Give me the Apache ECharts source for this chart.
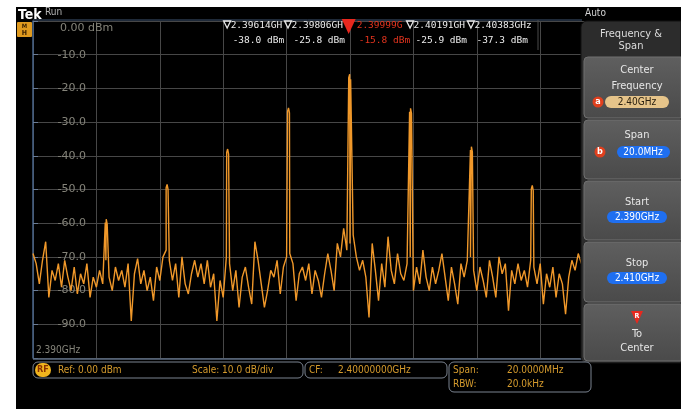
<!DOCTYPE html>
<html>
<head>
<meta charset="utf-8">
<script src="https://cdn.jsdelivr.net/npm/echarts@6/dist/echarts.min.js"></script>
<style>
  html, body { margin: 0; padding: 0; background: #fff; }
  #main { width: 681px; height: 409px; }
</style>
</head>
<body>
<div id="main"></div>
<script>
  // frequency in MHz, level in dBm
  var startMHz = 2390;
  var stopMHz = 2410;
  var noiseStep = 0.1;
  var noiseLevels = [
    -69, -72, -78, -71, -65.5, -82, -74, -77, -72, -79,
    -71, -76, -80, -73, -81, -75, -78, -72, -82, -76,
    -79, -74, -78, -71, -76, -80, -73, -77, -74, -79,
    -72, -89, -75, -70.5, -78, -74, -80, -76, -83, -73,
    -77, -70, -68, -71, -77, -72, -82, -70, -78, -81,
    -75, -71, -76, -72, -78, -71, -79, -75, -89, -77,
    -82, -70, -72, -80, -74, -85, -76, -73, -79, -84,
    -65.5, -71, -78, -85, -80, -74, -76, -71, -81, -73,
    -70, -69, -72, -83, -75, -73, -77, -72, -81, -74,
    -77, -82, -75, -69, -74, -80, -66, -70, -61.5, -68,
    -66, -63.5, -70, -74, -71, -76, -88, -66, -74, -83,
    -72, -79, -64, -74, -78, -69, -75, -77, -72, -70,
    -80, -73, -78, -68, -76, -80, -73, -78, -74, -69,
    -76, -83, -73, -78, -84, -72, -76, -71, -70, -74,
    -80, -73, -77, -82, -71, -76, -82, -70, -75, -72,
    -86, -74, -78, -72, -77, -74, -79, -71, -73, -78,
    -72, -84, -75, -79, -73, -82, -75, -78, -87, -76,
    -71, -74, -69, -72
  ];
  var peakFreqs = [2392.31, 2394.23, 2396.14, 2398.06, 2399.99, 2401.91, 2403.83, 2405.75];
  var peakLevels = [-58.8, -48.5, -38.0, -25.8, -15.8, -25.9, -37.3, -48.8];

  var markerFreqs = [2396.14, 2398.06, 2399.99, 2401.91, 2403.83];
  var markerFreqText = ['2.39614GHz', '2.39806GHz', '2.39999GHz', '2.40191GHz', '2.40383GHz'];
  var markerLevelText = ['-38.0 dBm', '-25.8 dBm', '-15.8 dBm', '-25.9 dBm', '-37.3 dBm'];
  var refMarker = 2;

  var yTicks = [0, -10, -20, -30, -40, -50, -60, -70, -80, -90, -100];

  // trace = noise floor plus the narrow carrier spikes
  var trace = [];
  for (var i = 0; i < noiseLevels.length; i++) {
    trace.push([startMHz + i * noiseStep, noiseLevels[i]]);
  }
  for (var k = 0; k < peakFreqs.length; k++) {
    trace.push([peakFreqs[k] - 0.03, peakLevels[k] - 1]);
    trace.push([peakFreqs[k], peakLevels[k]]);
    trace.push([peakFreqs[k] + 0.03, peakLevels[k] - 1.5]);
  }
  trace.sort(function (a, b) { return a[0] - b[0]; });

  var uiFont = "'DejaVu Sans Condensed', 'DejaVu Sans', sans-serif";
  var monoFont = "'DejaVu Sans Mono', monospace";
  var amber = '#d59b2d';
  var labelGray = '#85847a';

  var chart = echarts.init(document.getElementById('main'));
  chart.setOption({
    animation: false,
    backgroundColor: '#000',
    grid: { left: 33, top: 21, width: 634, height: 337, show: false },
    xAxis: {
      type: 'value',
      min: startMHz,
      max: stopMHz,
      interval: 2,
      axisLine: { show: false },
      axisTick: { show: false },
      axisLabel: { show: false },
      splitLine: { lineStyle: { color: '#474747', width: 1 } }
    },
    yAxis: {
      type: 'value',
      min: yTicks[yTicks.length - 1],
      max: yTicks[0],
      interval: 10,
      axisLine: { show: true, lineStyle: { color: '#48648a', width: 1.5 } },
      axisTick: { show: true, inside: true, length: 5, lineStyle: { color: '#6a7c96' } },
      axisLabel: {
        inside: true,
        align: 'right',
        margin: 53,
        color: labelGray,
        fontFamily: 'DejaVu Sans',
        fontSize: 11,
        formatter: function (v) {
          if (v === 0 || v === -100) return '';
          return v.toFixed(1);
        }
      },
      splitLine: { lineStyle: { color: '#474747', width: 1 } }
    },
    series: [{
      type: 'line',
      data: trace,
      showSymbol: false,
      clip: true,
      lineStyle: { color: '#f0982a', width: 1.4 },
      z: 3
    }]
  });

  var g = [];
  function txt(x, y, s, fill, font, align) {
    g.push({
      type: 'text', x: x, y: y, z: 100,
      style: { text: s, fill: fill, font: font, align: align || 'left', verticalAlign: 'middle' }
    });
  }
  function box(x, y, w, h, r, fill, stroke) {
    g.push({
      type: 'rect', z: 99,
      shape: { x: x, y: y, width: w, height: h, r: r },
      style: { fill: fill, stroke: stroke || null, lineWidth: 1 }
    });
  }

  // white margin of the screenshot
  box(0, 0, 16, 409, 0, '#fff');
  box(0, 0, 681, 7, 0, '#fff');

  // graticule frame
  var topY = chart.convertToPixel({ gridIndex: 0 }, [startMHz, yTicks[0]])[1];
  var botY = chart.convertToPixel({ gridIndex: 0 }, [startMHz, yTicks[yTicks.length - 1]])[1];
  g.push({ type: 'line', z: 50, shape: { x1: 33, y1: topY - 1, x2: 582, y2: topY - 1 }, style: { stroke: '#3e5572', lineWidth: 1 } });
  g.push({ type: 'line', z: 50, shape: { x1: 33, y1: botY + 1, x2: 582, y2: botY + 1 }, style: { stroke: '#5a6a80', lineWidth: 1.5 } });

  txt(60, topY + 7, '0.00 dBm', labelGray, '11px DejaVu Sans');
  txt(36, botY - 8, '2.390GHz', labelGray, '10px ' + uiFont);

  // header
  txt(18, 15, 'Tek', '#fff', 'bold 14px ' + uiFont);
  txt(45, 12, 'Run', '#b4b4b4', '10px ' + uiFont);
  txt(585, 13, 'Auto', '#d2d2d2', '10px ' + uiFont);
  box(17, 22, 15, 15, 1, '#e09a1e');
  txt(24.5, 26, 'M', '#3a2000', 'bold 6px ' + uiFont, 'center');
  txt(24.5, 33, 'H', '#3a2000', 'bold 7px ' + uiFont, 'center');

  // marker readouts along the top
  var mx = markerFreqs.map(function (f) { return chart.convertToPixel({ gridIndex: 0 }, [f, 0])[0]; });
  for (var m = 0; m < mx.length; m++) {
    var x0 = mx[m] - 4;
    var nextX = m < mx.length - 1 ? mx[m + 1] - 4 : 540;
    var isRef = m === refMarker;
    var col = isRef ? '#e4341e' : '#ececec';
    var tx = isRef ? x0 + 11 : x0 + 7;
    g.push({
      type: 'text', x: tx, y: 26, z: 100,
      style: { text: markerFreqText[m], fill: col, font: '9.5px ' + monoFont, verticalAlign: 'middle',
        width: nextX - tx - 1, overflow: 'truncate', ellipsis: '' }
    });
    txt(tx + 2, 41, markerLevelText[m], col, '9.5px ' + monoFont);
    if (isRef) {
      g.push({ type: 'polygon', z: 101, shape: { points: [[x0 - 4, 19], [x0 + 10, 19], [x0 + 3, 34]] }, style: { fill: '#e8281e' } });
      txt(x0 + 3, 24, 'R', '#fff', 'bold 8px ' + uiFont, 'center');
    } else {
      g.push({ type: 'polygon', z: 101, shape: { points: [[x0, 21], [x0 + 7, 21], [x0 + 3.5, 28]] }, style: { fill: null, stroke: '#e8e8e8', lineWidth: 1.3 } });
    }
  }
  g.push({ type: 'line', z: 50, shape: { x1: 538, y1: 20, x2: 538, y2: 50 }, style: { stroke: '#4b4b4b' } });

  // side menu
  g.push({ type: 'rect', z: 98, shape: { x: 581, y: 21, width: 100, height: 342, r: [6, 0, 0, 6] }, style: { fill: '#2c2c2c', stroke: '#101010' } });
  txt(631, 34, 'Frequency &', '#dcdcdc', '11px ' + uiFont, 'center');
  txt(631, 46, 'Span', '#dcdcdc', '11px ' + uiFont, 'center');
  var btnY = [[57, 118], [120, 179], [181, 240], [242, 302], [304, 361]];
  btnY.forEach(function (b) {
    g.push({
      type: 'rect', z: 99,
      shape: { x: 584, y: b[0], width: 97, height: b[1] - b[0], r: [4, 0, 0, 4] },
      style: {
        fill: new echarts.graphic.LinearGradient(0, 0, 0, 1, [{ offset: 0, color: '#5f5f5f' }, { offset: 1, color: '#4a4a4a' }]),
        stroke: '#707070', lineWidth: 1
      }
    });
  });
  var btnText = '#e6e6e6';
  txt(637, 70, 'Center', btnText, '11px ' + uiFont, 'center');
  txt(637, 86, 'Frequency', btnText, '11px ' + uiFont, 'center');
  g.push({ type: 'circle', z: 100, shape: { cx: 598, cy: 102, r: 5.5 }, style: { fill: '#e0401e' } });
  txt(598, 102, 'a', '#fff', 'bold 9px ' + uiFont, 'center');
  g.push({ type: 'rect', z: 100, shape: { x: 605, y: 96, width: 64, height: 12, r: 6 }, style: { fill: '#e6c48a' } });
  txt(637, 102, '2.40GHz', '#2a2010', '10px ' + uiFont, 'center');

  txt(637, 135, 'Span', btnText, '11px ' + uiFont, 'center');
  g.push({ type: 'circle', z: 100, shape: { cx: 600, cy: 152, r: 5.5 }, style: { fill: '#e0401e' } });
  txt(600, 152, 'b', '#fff', 'bold 9px ' + uiFont, 'center');
  g.push({ type: 'rect', z: 100, shape: { x: 617, y: 146, width: 53, height: 12, r: 6 }, style: { fill: '#1f6ff0' } });
  txt(643, 152, '20.0MHz', '#fff', '10px ' + uiFont, 'center');

  txt(637, 202, 'Start', btnText, '11px ' + uiFont, 'center');
  g.push({ type: 'rect', z: 100, shape: { x: 607, y: 211, width: 60, height: 12, r: 6 }, style: { fill: '#1f6ff0' } });
  txt(637, 217, '2.390GHz', '#fff', '10px ' + uiFont, 'center');

  txt(637, 263, 'Stop', btnText, '11px ' + uiFont, 'center');
  g.push({ type: 'rect', z: 100, shape: { x: 607, y: 272, width: 60, height: 12, r: 6 }, style: { fill: '#1f6ff0' } });
  txt(637, 278, '2.410GHz', '#fff', '10px ' + uiFont, 'center');

  g.push({ type: 'polygon', z: 100, shape: { points: [[631, 311], [643, 311], [637, 324]] }, style: { fill: '#e8281e' } });
  txt(637, 316, 'R', '#fff', 'bold 7px ' + uiFont, 'center');
  txt(637, 334, 'To', btnText, '11px ' + uiFont, 'center');
  txt(637, 348, 'Center', btnText, '11px ' + uiFont, 'center');

  // status bar
  box(33, 362, 270, 16, 5, '#000', '#7b8390');
  g.push({ type: 'rect', z: 100, shape: { x: 35, y: 363, width: 16, height: 14, r: 7 }, style: { fill: '#f0b41e' } });
  txt(43, 370, 'RF', '#8a3000', 'bold 9px ' + uiFont, 'center');
  txt(58, 370, 'Ref: 0.00 dBm', amber, '10px ' + uiFont);
  txt(192, 370, 'Scale: 10.0 dB/div', amber, '10px ' + uiFont);
  box(305, 362, 142, 16, 5, '#000', '#7b8390');
  txt(309, 370, 'CF:', amber, '10px ' + uiFont);
  txt(338, 370, '2.40000000GHz', amber, '10px ' + uiFont);
  box(449, 362, 142, 30, 5, '#000', '#7b8390');
  txt(453, 370, 'Span:', amber, '10px ' + uiFont);
  txt(507, 370, '20.0000MHz', amber, '10px ' + uiFont);
  txt(453, 384, 'RBW:', amber, '10px ' + uiFont);
  txt(507, 384, '20.0kHz', amber, '10px ' + uiFont);

  chart.setOption({ graphic: g });
</script>
</body>
</html>
